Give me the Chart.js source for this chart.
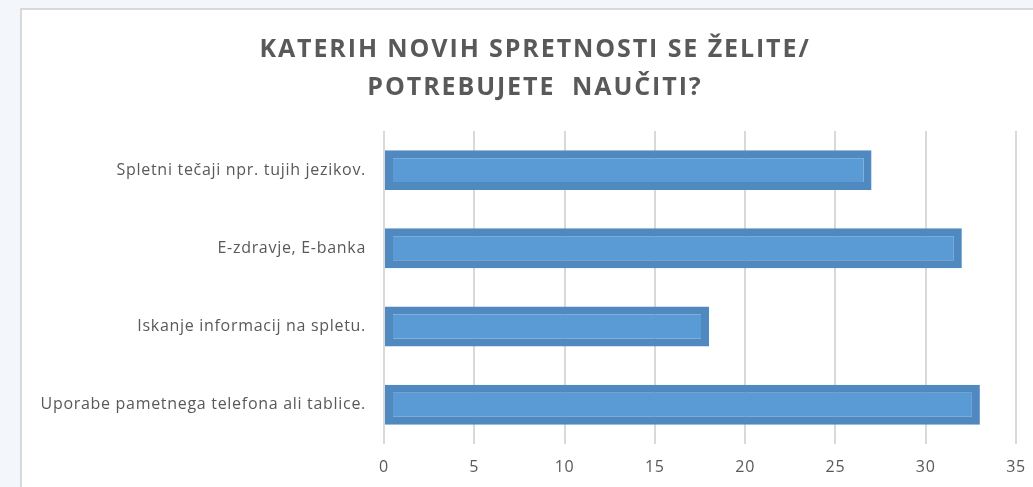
<!DOCTYPE html>
<html>
<head>
<meta charset="utf-8">
<script src="https://cdn.jsdelivr.net/npm/chart.js@4/dist/chart.umd.min.js"></script>
<style>
    html, body { margin: 0; padding: 0; overflow: hidden; }
    body { width: 1033px; height: 487px; background: #f3f7fb; position: relative; }
    .frame {
        position: absolute; left: 20px; top: 8px;
        width: 1040px; height: 500px;
        background: #fff; border: 2px solid #d9d9d9;
    }
    .frame canvas { position: absolute; left: 0; top: 0; }
</style>
</head>
<body>
<div class="frame">
    <canvas id="skills" width="1026" height="481"></canvas>
</div>
<script>
const titleLines = ['KATERIH NOVIH SPRETNOSTI SE ŽELITE/', 'POTREBUJETE  NAUČITI?'];
const categories = [
    'Spletni tečaji npr. tujih jezikov.',
    'E-zdravje, E-banka',
    'Iskanje informacij na spletu.',
    'Uporabe pametnega telefona ali tablice.'
];
const answers = [27, 32, 18, 33];
const xTicks = [0, 5, 10, 15, 20, 25, 30, 35];

const textColor = '#595959';
const gridColor = '#d9d9d9';

const canvas = document.getElementById('skills');
canvas.style.width = '1026px';
canvas.style.height = '481px';

// the original text is set a bit wider than Open Sans,
// and the title sits centred on the whole frame, not the padded box
const spacing = {
    id: 'spacing',
    beforeDraw(chart) {
        chart.ctx.letterSpacing = '0.7px';
        const t = chart.titleBlock;
        if (t && !t._spaced) {
            const orig = t.draw.bind(t);
            t.draw = area => {
                chart.ctx.save();
                chart.ctx.letterSpacing = '1.9px';
                chart.ctx.translate(16, 0);
                orig(area);
                chart.ctx.restore();
            };
            t._spaced = true;
        }
    }
};

new Chart(canvas, {
    type: 'bar',
    data: {
        labels: categories,
        datasets: [{
            label: 'Odgovori',
            data: answers,
            backgroundColor: '#5b9bd5',
            borderColor: '#4f89c0',
            borderWidth: 8,
            borderSkipped: false,
            barPercentage: 0.51,
            categoryPercentage: 1
        }]
    },
    options: {
        indexAxis: 'y',
        responsive: false,
        animation: false,
        layout: {
            padding: { left: 0, right: 32, top: 0, bottom: 0 }
        },
        plugins: {
            legend: { display: false },
            tooltip: { enabled: false },
            title: {
                display: true,
                text: titleLines,
                color: textColor,
                font: { family: 'Open Sans', size: 25, weight: 'bold', lineHeight: 1.52 },
                padding: { top: 21, bottom: 24 }
            }
        },
        scales: {
            x: {
                min: 0,
                max: 35,
                afterBuildTicks: axis => {
                    axis.ticks = xTicks.map(v => ({ value: v }));
                },
                grid: { color: gridColor, lineWidth: 2, drawTicks: false },
                border: { display: false },
                ticks: {
                    color: textColor,
                    padding: 14,
                    font: { family: 'Open Sans', size: 16 }
                }
            },
            y: {
                grid: { display: false, drawTicks: false },
                border: { display: false },
                afterFit: axis => { axis.width = 362; },
                ticks: {
                    color: textColor,
                    padding: 18,
                    font: { family: 'Open Sans', size: 16 }
                }
            }
        }
    },
    plugins: [spacing]
});
</script>
</body>
</html>
